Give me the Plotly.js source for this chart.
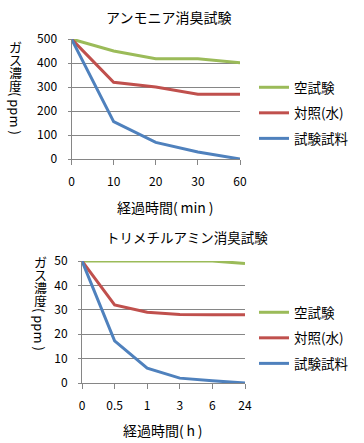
<!DOCTYPE html>
<html><head><meta charset="utf-8">
<script src="https://cdn.plot.ly/plotly-3.0.1.min.js"></script>
<style>html,body{margin:0;padding:0;background:#fff;overflow:hidden;}#c{width:364px;height:443px;}</style>
</head><body><div id="c"></div>
<script>
const seriesNames = ['空試験', '対照(水)', '試験試料'];
const colors = ['#9BBB59', '#C0504D', '#4F81BD'];

const ammoniaTimes = ['0', '10', '20', '30', '60'];
const ammoniaBlank = [500, 450, 418, 418, 401];
const ammoniaControl = [500, 320, 300, 270, 270];
const ammoniaSample = [500, 156, 69, 29, 0];

const tmaTimes = ['0', '0.5', '1', '3', '6', '24'];
const tmaBlank = [50, 50, 50, 50, 50, 49];
const tmaControl = [50, 32, 29, 28.1, 28, 28];
const tmaSample = [50, 17.3, 6.1, 2, 0.9, 0];

const yTitleChars = ['ガ', 'ス', '濃', '度'];
const yTitleUnit = '( ppm )';

const W = 364, H = 443;
const px = x => x / W;
const py = y => 1 - y / H;
const FONT = '"Noto Sans CJK JP", sans-serif';

const traces = [];
[ammoniaBlank, ammoniaControl, ammoniaSample].forEach((v, i) => {
  traces.push({x: ammoniaTimes, y: v, type: 'scatter', mode: 'lines', name: seriesNames[i],
    line: {color: colors[i], width: 3}, xaxis: 'x', yaxis: 'y', legend: 'legend', legendgroup: 'a' + i});
});
[tmaBlank, tmaControl, tmaSample].forEach((v, i) => {
  traces.push({x: tmaTimes, y: v, type: 'scatter', mode: 'lines', name: seriesNames[i],
    line: {color: colors[i], width: 3}, xaxis: 'x2', yaxis: 'y2', legend: 'legend2', legendgroup: 'b' + i});
});

const gridC = '#868686';
const xCommon = {type: 'category', showgrid: false, showline: true, linecolor: gridC, linewidth: 1,
  ticks: 'outside', ticklen: 5, tickcolor: gridC, tickfont: {family: FONT, size: 12, color: '#000'},
  zeroline: false, fixedrange: true, ticklabelstandoff: 7};
const yCommon = {showgrid: true, gridcolor: gridC, gridwidth: 1, showline: true, linecolor: gridC,
  ticks: 'outside', ticklen: 3, tickcolor: gridC, tickfont: {family: FONT, size: 12, color: '#000'},
  zeroline: false, fixedrange: true, ticklabelstandoff: 8};

const ann = [
  {text: 'アンモニア消臭試験', x: 168, y: 17, size: 14},
  {text: 'トリメチルアミン消臭試験', x: 187, y: 237, size: 13.5},
  {text: '経過時間(\u2009min\u2009)', x: 165, y: 207, size: 14},
  {text: '経過時間(\u2009h\u2009)', x: 163, y: 430, size: 14}
];
yTitleChars.forEach((c, i) => {
  ann.push({text: c, x: 15, y: 46.5 + 13 * i, size: 13, h: 13});
  ann.push({text: c, x: 40, y: 261.5 + 13 * i, size: 13, h: 13});
});
ann.push({text: yTitleUnit, x: 15, y: 113, size: 13, angle: 90});
ann.push({text: yTitleUnit, x: 40, y: 329, size: 13, angle: 90});

const layout = {
  width: W, height: H, margin: {l: 0, r: 0, t: 0, b: 0},
  paper_bgcolor: '#fff', plot_bgcolor: '#fff', font: {family: FONT, color: '#000'},
  xaxis: Object.assign({}, xCommon, {domain: [px(71.5), px(240)], range: [0, ammoniaTimes.length - 1], anchor: 'y'}),
  yaxis: Object.assign({}, yCommon, {domain: [py(159), py(39)], range: [0, 500], dtick: 100, anchor: 'x'}),
  xaxis2: Object.assign({}, xCommon, {domain: [px(82), px(245)], range: [0, tmaTimes.length - 1], anchor: 'y2'}),
  yaxis2: Object.assign({}, yCommon, {domain: [py(383), py(261)], range: [0, 50], dtick: 10, anchor: 'x2'}),
  legend: {x: px(254), y: py(72), xanchor: 'left', yanchor: 'top', font: {family: FONT, size: 13.5},
    tracegroupgap: 5, bgcolor: 'rgba(0,0,0,0)'},
  legend2: {x: px(254), y: py(297), xanchor: 'left', yanchor: 'top', font: {family: FONT, size: 13.5},
    tracegroupgap: 5, bgcolor: 'rgba(0,0,0,0)'},
  annotations: ann.map(a => {
    const o = {text: a.text, x: px(a.x), y: py(a.y), xref: 'paper', yref: 'paper',
      xanchor: 'center', yanchor: 'middle', showarrow: false, textangle: a.angle || 0,
      borderpad: 0, font: {family: FONT, size: a.size, color: '#000'}};
    if (a.h) o.height = a.h;
    return o;
  })
};

Plotly.newPlot('c', traces, layout, {displayModeBar: false, staticPlot: true});
</script></body></html>
